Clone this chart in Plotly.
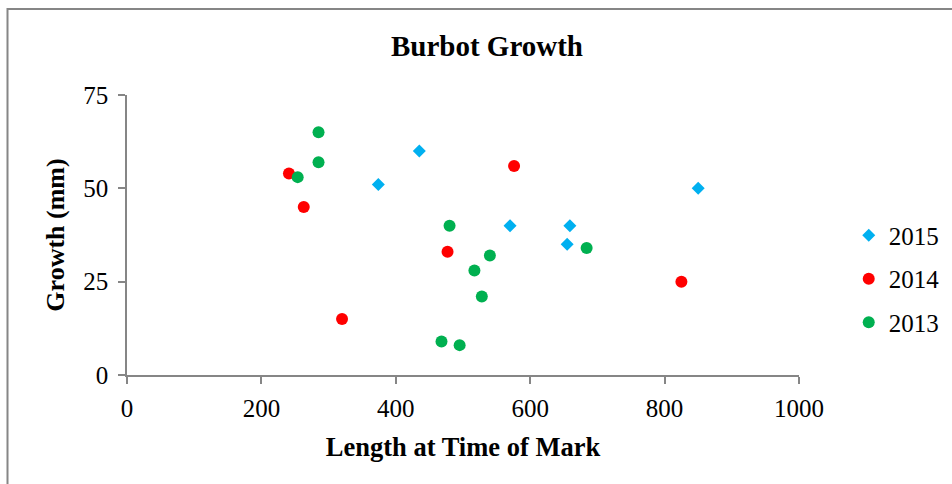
import plotly.graph_objects as go

# Length at time of mark vs growth (mm)
len_2015 = [374, 435, 570, 659, 655, 850]
growth_2015 = [51, 60, 40, 40, 35, 50]

len_2014 = [241, 263, 320, 477, 576, 825]
growth_2014 = [54, 45, 15, 33, 56, 25]

len_2013 = [285, 285, 254, 480, 540, 517, 528, 468, 495, 684]
growth_2013 = [65, 57, 53, 40, 32, 28, 21, 9, 8, 34]

x_ticks = [0, 200, 400, 600, 800, 1000]
y_ticks = [0, 25, 50, 75]

FONT = "Times New Roman, Liberation Serif, serif"
AXIS_GREY = "#868686"

fig = go.Figure()
series = (
    ("2015", len_2015, growth_2015, "#00B0F0", "diamond", 10),
    ("2014", len_2014, growth_2014, "#FF0000", "circle", 12),
    ("2013", len_2013, growth_2013, "#00B050", "circle", 12),
)
for name, xs, ys, color, symbol, size in series:
    fig.add_trace(
        go.Scatter(
            x=xs,
            y=ys,
            mode="markers",
            name=name,
            legendgroup=name,
            marker={"color": color, "symbol": symbol, "size": size, "line": {"width": 0}},
        )
    )

fig.update_layout(
    width=952,
    height=484,
    margin={"l": 127, "r": 153, "t": 95, "b": 109, "autoexpand": False},
    paper_bgcolor="white",
    plot_bgcolor="white",
    font={"family": FONT, "size": 25, "color": "black"},
    title={
        "text": "<b>Burbot Growth</b>",
        "font": {"size": 29},
        "x": 487 / 952,
        "xanchor": "center",
        "xref": "container",
        "y": 1 - 46 / 484,
        "yanchor": "middle",
        "yref": "container",
    },
    legend={
        "x": 1.074,
        "xanchor": "left",
        "y": 0.343,
        "yanchor": "middle",
        "font": {"size": 25},
        "tracegroupgap": 8,
        "bgcolor": "rgba(0,0,0,0)",
    },
    showlegend=True,
)

fig.update_xaxes(
    range=[0, 1000],
    tickvals=x_ticks,
    ticks="outside",
    ticklen=7,
    tickcolor=AXIS_GREY,
    tickwidth=1.5,
    showline=True,
    linecolor=AXIS_GREY,
    linewidth=1.5,
    showgrid=False,
    zeroline=False,
    ticklabelstandoff=3,
    title={"text": "<b>Length at Time of Mark</b>", "font": {"size": 26.5}, "standoff": 17},
)
fig.update_yaxes(
    range=[0, 75],
    tickvals=y_ticks,
    ticks="outside",
    ticklen=7,
    tickcolor=AXIS_GREY,
    tickwidth=1.5,
    showline=True,
    linecolor=AXIS_GREY,
    linewidth=1.5,
    showgrid=False,
    zeroline=False,
    ticklabelstandoff=5,
    title={"text": "<b>Growth (mm)</b>", "font": {"size": 26}, "standoff": 11},
)

# grey chart-area frame that runs off the right and bottom of the picture
fig.add_shape(
    type="rect",
    xref="paper",
    yref="paper",
    x0=(7.5 - 127) / 672,
    x1=1.5,
    y0=-1,
    y1=1 + (95 - 9) / 280,
    line={"color": AXIS_GREY, "width": 2},
    layer="below",
)

# drop the page's default body margin so the figure sits at the top-left corner
fig.write_html(
    "out.html",
    config={"displayModeBar": False},
    post_script="document.body.style.margin = '0';",
)
